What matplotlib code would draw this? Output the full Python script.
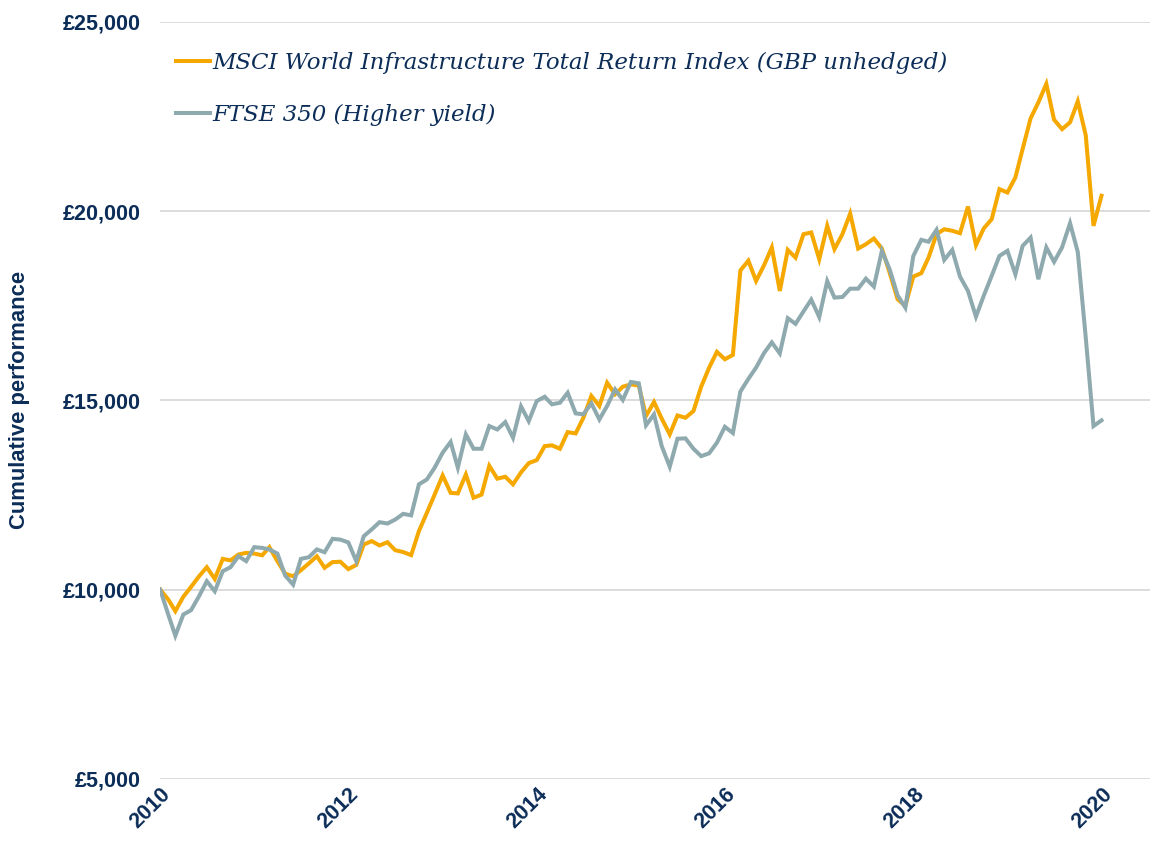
"""Cumulative performance: MSCI World Infrastructure vs FTSE 350 (Higher yield)."""

import matplotlib

matplotlib.use("Agg")
import matplotlib.dates as mdates
import matplotlib.pyplot as plt
import pandas as pd
from matplotlib.ticker import FuncFormatter

NAVY = "#0c2d57"
ORANGE = "#f5a800"
GREY = "#8faaae"

# monthly values, Jan 2010 onwards (growth of 10,000)
msci_infra = [
    10000, 9740, 9430, 9810, 10070, 10350, 10590, 10280, 10810, 10770,
    10925, 10970, 10950, 10905, 11120, 10750, 10420, 10350, 10510, 10690,
    10880, 10575, 10725, 10735, 10540, 10650, 11190, 11280, 11165, 11250,
    11040, 10990, 10910, 11545, 12030, 12510, 13015, 12555, 12540, 13040,
    12425, 12510, 13270, 12930, 12980, 12780, 13095, 13340, 13420, 13790,
    13810, 13720, 14160, 14125, 14540, 15115, 14850, 15465, 15160, 15360,
    15420, 15390, 14585, 14955, 14515, 14100, 14600, 14540, 14715, 15360,
    15865, 16280, 16085, 16200, 18430, 18690, 18155, 18570, 19040, 17890,
    18975, 18770, 19390, 19435, 18730, 19610, 18995, 19390, 19935, 19010,
    19125, 19275, 19010, 18375, 17670, 17495, 18270, 18360, 18770, 19390,
    19520, 19480, 19415, 20120, 19100, 19540, 19785, 20580, 20490, 20890,
    21640, 22450, 22870, 23360, 22415, 22165, 22345, 22900, 22000, 19610,
    20405,
]
ftse_350_hy = [
    10000, 9350, 8780, 9340, 9455, 9825, 10220, 9955, 10485, 10590,
    10880, 10750, 11120, 11100, 11060, 10950, 10370, 10130, 10810, 10855,
    11060, 10985, 11340, 11320, 11245, 10750, 11410, 11590, 11780, 11745,
    11850, 12000, 11960, 12780, 12910, 13220, 13615, 13900, 13220, 14100,
    13720, 13720, 14320, 14230, 14425, 14010, 14840, 14450, 14980, 15095,
    14895, 14935, 15200, 14655, 14630, 14920, 14495, 14850, 15290, 15010,
    15485, 15450, 14340, 14630, 13790, 13245, 13985, 13995, 13720, 13525,
    13600, 13880, 14300, 14135, 15230, 15565, 15865, 16250, 16530, 16240,
    17170, 17020, 17350, 17660, 17200, 18150, 17715, 17730, 17950, 17950,
    18215, 18005, 18950, 18465, 17775, 17450, 18815, 19240, 19190, 19505,
    18710, 18975, 18270, 17890, 17210, 17760, 18290, 18815, 18950, 18330,
    19080, 19300, 18200, 19040, 18660, 19040, 19680, 18920, 16650, 14320,
    14470,
]
dates = pd.date_range("2010-01-01", periods=len(msci_infra), freq="MS")
series_labels = [
    "MSCI World Infrastructure Total Return Index (GBP unhedged)",
    "FTSE 350 (Higher yield)",
]
y_ticks = [5000, 10000, 15000, 20000, 25000]
x_tick_years = [2010, 2012, 2014, 2016, 2018, 2020]

fig = plt.figure(figsize=(11.52, 8.41), dpi=100)
ax = fig.add_axes([0.139, 0.074, 0.859, 0.9])

ax.plot(dates, msci_infra, color=ORANGE, lw=2.9, label=series_labels[0], solid_joinstyle="miter")
ax.plot(dates, ftse_350_hy, color=GREY, lw=2.9, label=series_labels[1], solid_joinstyle="miter")

ax.set_ylim(5000, 25000)
ax.set_yticks(y_ticks)
ax.yaxis.set_major_formatter(FuncFormatter(lambda v, _: f"\u00a3{v:,.0f}"))
ax.set_xlim(pd.Timestamp("2010-01-01"), pd.Timestamp("2020-07-06"))
ax.set_xticks([pd.Timestamp(f"{y}-01-01") for y in x_tick_years])
ax.xaxis.set_major_formatter(mdates.DateFormatter("%Y"))

ax.grid(axis="y", color="#d9d9d9", lw=1.3)
ax.set_axisbelow(True)
for s in ax.spines.values():
    s.set_visible(False)
ax.tick_params(length=0, colors=NAVY)
ax.tick_params(axis="y", pad=14)
for lab in ax.get_yticklabels():
    lab.set_fontfamily("Liberation Sans")
    lab.set_fontweight("bold")
    lab.set_fontsize(15.5)
for lab in ax.get_xticklabels():
    lab.set_fontfamily("Liberation Sans")
    lab.set_fontweight("bold")
    lab.set_fontsize(15.5)
    lab.set_rotation(45)
    lab.set_ha("right")
    lab.set_va("top")
    lab.set_rotation_mode("anchor")

ax.set_ylabel("Cumulative performance", color=NAVY, fontsize=15.8,
              fontweight="bold", family="Liberation Sans")
ax.yaxis.set_label_coords(-0.132, 0.5)

leg = ax.legend(loc="upper left", bbox_to_anchor=(-0.005, 0.988), frameon=False,
                handlelength=1.5, handletextpad=0.08, labelspacing=1.3,
                prop={"family": "DejaVu Serif", "style": "italic", "size": 16.5})
for t in leg.get_texts():
    t.set_color(NAVY)

fig.savefig("out.png", dpi=100)
